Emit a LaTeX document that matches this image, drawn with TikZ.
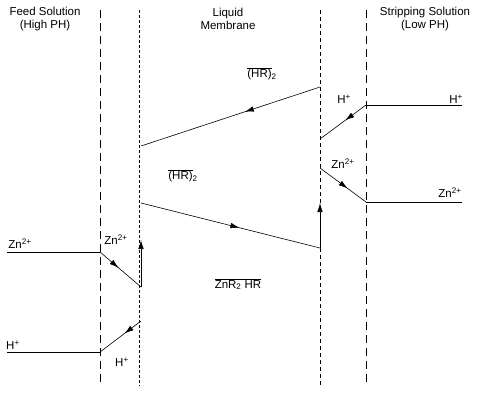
\documentclass[tikz,border=0pt]{standalone}
\usepackage{fontspec}
\setmainfont{Liberation Sans}
\usetikzlibrary{arrows.meta,decorations.markings}
\begin{document}
\begin{tikzpicture}[x=1pt,y=-1pt,
  lbl/.style={inner sep=0pt,font=\fontsize{11.5}{13}\selectfont},
  ln/.style={line width=0.6pt},
  longdash/.style={line width=0.7pt,dash pattern=on 8pt off 5pt},
  shortdash/.style={line width=0.6pt,dash pattern=on 3pt off 2pt},
  middash/.style={line width=0.6pt,dash pattern=on 4pt off 3pt},
  midarrow/.style={ln,postaction={decorate},decoration={markings,mark=at position #1 with {\arrow{Latex[length=9pt,width=5.5pt]}}}},
  tiparrow/.style={ln,-{Latex[length=9pt,width=5.5pt]}}]
\useasboundingbox (0,0) rectangle (481,400);
% membrane boundaries
\coordinate (a1) at (100,10); \coordinate (a2) at (100,386);
\coordinate (b1) at (139.5,10); \coordinate (b2) at (139.5,386);
\coordinate (c1) at (320,10); \coordinate (c2) at (320,386);
\coordinate (d1) at (366,10); \coordinate (d2) at (366,386);
\draw[longdash] (a1) -- (a2);
\draw[shortdash] (b1) -- (b2);
\draw[middash] (c1) -- (c2);
\draw[longdash] (d1) -- (d2);
% headers
\node[lbl,align=center] (feed) at (45,19) {Feed Solution\\(High PH)};
\node[lbl,align=center] (memb) at (228,19) {Liquid\\Membrane};
\node[lbl,align=center] (strip) at (425,19) {Stripping Solution\\(Low PH)};
% points
\coordinate (p1) at (320,87);
\coordinate (p2) at (141,146);
\coordinate (p3) at (141,203);
\coordinate (p4) at (320,248);
\coordinate (p5) at (320,203);
\coordinate (f1) at (7,252);
\coordinate (f2) at (100,252);
\coordinate (f3) at (141,287);
\coordinate (f4) at (141,240);
\coordinate (g1) at (7,352);
\coordinate (g2) at (100,352);
\coordinate (g3) at (141,321);
\coordinate (s1) at (462,105);
\coordinate (s2) at (366,105);
\coordinate (s3) at (320,139);
\coordinate (t1) at (320,168);
\coordinate (t2) at (366,202);
\coordinate (t3) at (462,202);
% membrane lines
\draw[midarrow=0.42] (p1) -- (p2);
\draw[midarrow=0.55] (p3) -- (p4);
\draw[tiparrow] (p4) -- (p5);
% feed side
\draw[ln] (f1) -- (f2);
\draw[midarrow=0.45] (f2) -- (f3);
\draw[tiparrow] (f3) -- (f4);
\draw[ln] (g1) -- (g2);
\draw[midarrow=0.4] (g3) -- (g2);
% stripping side
\draw[ln] (s1) -- (s2);
\draw[midarrow=0.45] (s2) -- (s3);
\draw[midarrow=0.6] (t1) -- (t2);
\draw[ln] (t2) -- (t3);
% labels
\node[lbl] (hr1) at (262,74) {$\overline{\hbox{(HR)}}$\textsubscript{2}};
\node[lbl] (hr2) at (183,176) {$\overline{\hbox{(HR)}}$\textsubscript{2}};
\node[lbl] (znr) at (238,284) {$\overline{\hbox{ZnR\textsubscript{2} HR}}$};
\node[lbl] (zn1) at (20,244) {Zn\textsuperscript{2+}};
\node[lbl] (zn2) at (116,240) {Zn\textsuperscript{2+}};
\node[lbl] (h1) at (13,345) {H\textsuperscript{+}};
\node[lbl] (h2) at (122,362) {H\textsuperscript{+}};
\node[lbl] (h3) at (344,99) {H\textsuperscript{+}};
\node[lbl] (h4) at (456,99) {H\textsuperscript{+}};
\node[lbl] (zn3) at (343,164) {Zn\textsuperscript{2+}};
\node[lbl] (zn4) at (450,193) {Zn\textsuperscript{2+}};
\end{tikzpicture}
\end{document}
